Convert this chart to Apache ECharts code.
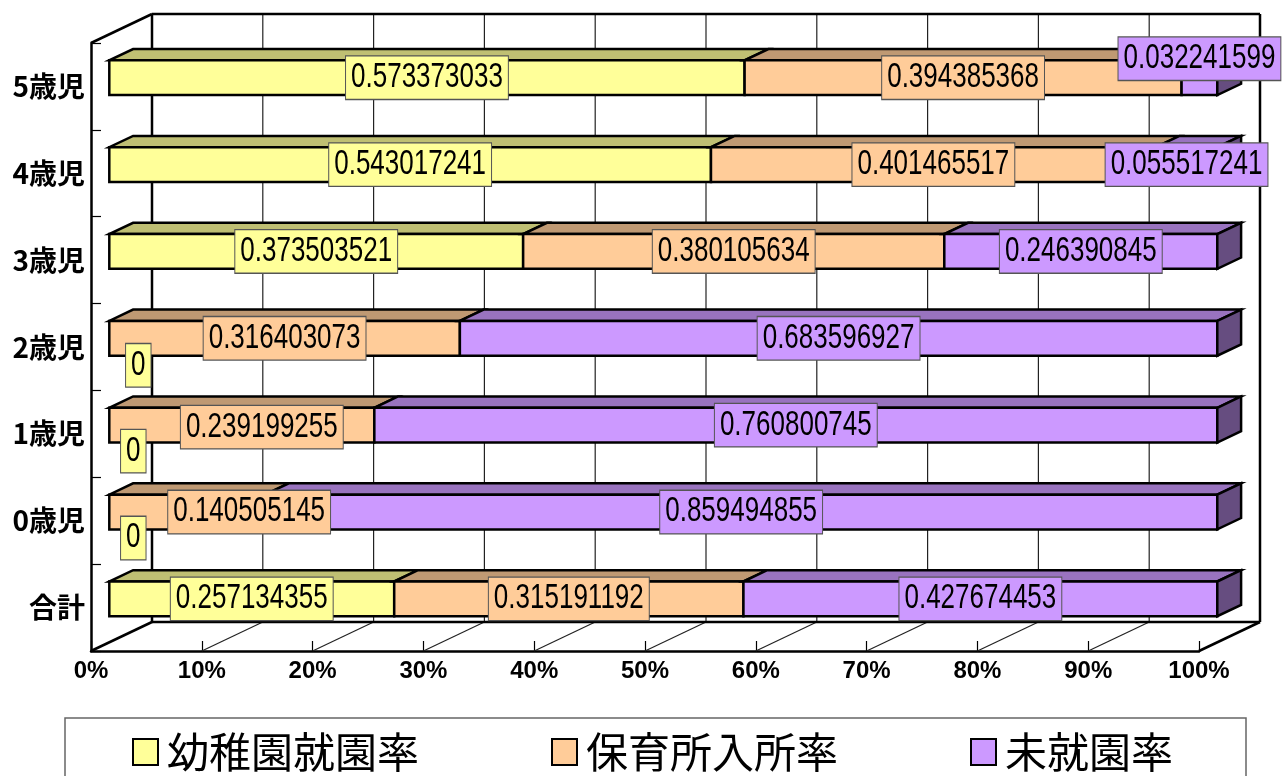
<!DOCTYPE html>
<html>
<head>
<meta charset="utf-8">
<title>就園率</title>
<script src="https://cdn.jsdelivr.net/npm/echarts@6/dist/echarts.min.js"></script>
<style>
  html, body { margin: 0; padding: 0; background: #fff; }
  #chart { width: 1282px; height: 776px; }
</style>
</head>
<body>
<div id="chart"></div>
<script>
// Age groups, top row first
const categories = ['5歳児', '4歳児', '3歳児', '2歳児', '1歳児', '0歳児', '合計'];
const seriesNames = ['幼稚園就園率', '保育所入所率', '未就園率'];
const kindergartenRate = [0.573373033, 0.543017241, 0.373503521, 0, 0, 0, 0.257134355];
const nurseryRate = [0.394385368, 0.401465517, 0.380105634, 0.316403073, 0.239199255, 0.140505145, 0.315191192];
const notEnrolledRate = [0.032241599, 0.055517241, 0.246390845, 0.683596927, 0.760800745, 0.859494855, 0.427674453];
const xTickValues = [0, 0.1, 0.2, 0.3, 0.4, 0.5, 0.6, 0.7, 0.8, 0.9, 1];

// Face colours: front, top, side
const palette = [
  { front: '#FFFF99', top: '#BFBF73', side: '#80804D' },
  { front: '#FFCC99', top: '#BF9973', side: '#80664D' },
  { front: '#CC99FF', top: '#9973BF', side: '#664D80' }
];

// Pseudo-3D projection: shift of the back plane relative to the front plane
const DX = 61, DY = -29;
const DEPTH_FRONT = 0.3, DEPTH_BACK = 0.69;
const BAR_FRAC = 0.4;
const EDGE = 2.5;
const LABEL_FONT = "'Liberation Sans', Arial, sans-serif";

// Hand-placed label nudges (series index - row index) -> [dx, dy]
const labelNudges = {
  '2-0': [0, -19],
  '1-4': [20, 2],
  '1-5': [62, 0],
  '0-3': [29, 27],
  '0-4': [24, 26],
  '0-5': [24, 26]
};

const rates = [kindergartenRate, nurseryRate, notEnrolledRate];

function stackedData(si) {
  return categories.map(function (c, ci) {
    let start = 0;
    for (let k = 0; k < si; k++) start += rates[k][ci];
    const v = rates[si][ci];
    return [start, start + v, ci, v];
  });
}

function segmentGeom(api) {
  const start = api.value(0), end = api.value(1), ci = api.value(2);
  const p0 = api.coord([start, ci]);
  const p1 = api.coord([end, ci]);
  const band = api.size([0, 1])[1];
  const h = band * BAR_FRAC;
  const fx = DEPTH_FRONT * DX, fy = DEPTH_FRONT * DY;
  const yc = p0[1] + fy;
  return {
    start: start, end: end, ci: ci,
    x0: p0[0] + fx, x1: p1[0] + fx,
    yT: yc - h / 2, yB: yc + h / 2, yc: yc,
    bx: (DEPTH_BACK - DEPTH_FRONT) * DX,
    by: (DEPTH_BACK - DEPTH_FRONT) * DY
  };
}

function makeBarRenderer(si) {
  const col = palette[si];
  return function (params, api) {
    const g = segmentGeom(api);
    if (g.end - g.start <= 0) return { type: 'group', children: [] };
    const stroke = { stroke: '#000', lineWidth: EDGE, lineJoin: 'miter' };
    const children = [
      {
        type: 'polygon',
        shape: { points: [[g.x0, g.yT], [g.x1, g.yT], [g.x1 + g.bx, g.yT + g.by], [g.x0 + g.bx, g.yT + g.by]] },
        style: Object.assign({ fill: col.top }, stroke)
      },
      {
        type: 'rect',
        shape: { x: g.x0, y: g.yT, width: g.x1 - g.x0, height: g.yB - g.yT },
        style: Object.assign({ fill: col.front }, stroke)
      }
    ];
    if (g.end >= 0.9999) {
      children.push({
        type: 'polygon',
        shape: { points: [[g.x1, g.yT], [g.x1 + g.bx, g.yT + g.by], [g.x1 + g.bx, g.yB + g.by], [g.x1, g.yB]] },
        style: Object.assign({ fill: col.side }, stroke)
      });
    }
    return { type: 'group', children: children };
  };
}

function makeLabelRenderer(si) {
  const col = palette[si];
  return function (params, api) {
    const g = segmentGeom(api);
    const nudge = labelNudges[si + '-' + g.ci] || [0, 0];
    return {
      type: 'text',
      x: (g.x0 + g.x1) / 2 + nudge[0],
      y: g.yc + nudge[1],
      scaleY: 1.32,
      style: {
        text: String(api.value(3)),
        fill: '#000',
        fontSize: 26,
        lineHeight: 22,
        fontFamily: LABEL_FONT,
        align: 'center',
        verticalAlign: 'middle',
        backgroundColor: col.front,
        borderColor: '#555',
        borderWidth: 1,
        padding: [5, 5, 5, 5]
      }
    };
  };
}

// Back wall, left wall edge and floor of the box
function renderFrame(params, api) {
  const cs = params.coordSys;
  const top = cs.y, bottom = cs.y + cs.height;
  const xs = xTickValues.map(function (v) { return api.coord([v, 0])[0]; });
  const x0 = xs[0], xN = xs[xs.length - 1];
  const thick = { stroke: '#000', lineWidth: EDGE };
  const thin = { stroke: '#222', lineWidth: 1.2 };
  const line = function (a, b, st) {
    return { type: 'line', shape: { x1: a[0], y1: a[1], x2: b[0], y2: b[1] }, style: st };
  };
  const els = [];
  xs.forEach(function (x, k) {
    const edge = (k === 0 || k === xs.length - 1);
    els.push(line([x + DX, top + DY], [x + DX, bottom + DY], edge ? thick : thin));
    if (!edge) els.push(line([x, bottom], [x + DX, bottom + DY], thin));
  });
  els.push(line([x0 + DX, top + DY], [xN + DX, top + DY], thick));
  els.push(line([x0 + DX, bottom + DY], [xN + DX, bottom + DY], thick));
  els.push(line([x0, top], [x0 + DX, top + DY], thick));
  els.push(line([x0, bottom], [x0 + DX, bottom + DY], thick));
  els.push(line([xN, bottom], [xN + DX, bottom + DY], thick));
  return { type: 'group', children: els };
}

const chart = echarts.init(document.getElementById('chart'), null, { renderer: 'canvas' });

const series = [{
  type: 'custom',
  name: 'frame',
  data: [[0, 0]],
  encode: { x: 0, y: 1 },
  renderItem: renderFrame,
  clip: false,
  silent: true,
  z: 1
}];

seriesNames.forEach(function (name, si) {
  series.push({
    type: 'custom',
    name: name,
    data: stackedData(si),
    encode: { x: [0, 1], y: 2 },
    itemStyle: { color: palette[si].front },
    renderItem: makeBarRenderer(si),
    clip: false,
    z: 2
  });
});
seriesNames.forEach(function (name, si) {
  series.push({
    type: 'custom',
    name: name + ' ラベル',
    data: stackedData(si),
    encode: { x: [0, 1], y: 2 },
    renderItem: makeLabelRenderer(si),
    clip: false,
    silent: true,
    z: 5
  });
});

chart.setOption({
  animation: false,
  backgroundColor: '#fff',
  grid: { left: 91, right: 83, top: 43, bottom: 125 },
  xAxis: {
    type: 'value',
    min: 0,
    max: 1,
    interval: 0.1,
    axisLine: { show: true, lineStyle: { color: '#000', width: EDGE } },
    axisTick: { show: true, inside: true, length: 10, lineStyle: { color: '#000', width: 1.2 } },
    splitLine: { show: false },
    axisLabel: {
      margin: 8,
      color: '#000',
      fontSize: 24,
      fontWeight: 'bold',
      fontFamily: LABEL_FONT,
      formatter: function (v) { return Math.round(v * 100) + '%'; }
    }
  },
  yAxis: {
    type: 'category',
    data: categories,
    inverse: true,
    axisLine: { show: true, lineStyle: { color: '#000', width: EDGE } },
    axisTick: { show: true, inside: true, length: 10, lineStyle: { color: '#000', width: 1.2 } },
    splitLine: { show: false },
    axisLabel: {
      margin: 6,
      color: '#000',
      fontSize: 28,
      fontWeight: 'bold',
      fontFamily: "'Noto Sans CJK JP', sans-serif"
    }
  },
  legend: {
    data: seriesNames,
    left: 132,
    top: 730,
    padding: 0,
    icon: 'rect',
    itemWidth: 25,
    itemHeight: 26,
    itemGap: 132,
    itemStyle: { borderColor: '#000', borderWidth: 2 },
    textStyle: {
      color: '#000',
      fontSize: 42,
      lineHeight: 44,
      padding: [0, 0, 0, 4],
      fontFamily: "'Noto Sans CJK JP', sans-serif"
    },
    selectedMode: false
  },
  graphic: [{
    type: 'rect',
    silent: true,
    z: 0,
    shape: { x: 65, y: 718, width: 1181, height: 80 },
    style: { fill: 'none', stroke: '#666', lineWidth: 1.5 }
  }],
  series: series
});
</script>
</body>
</html>
